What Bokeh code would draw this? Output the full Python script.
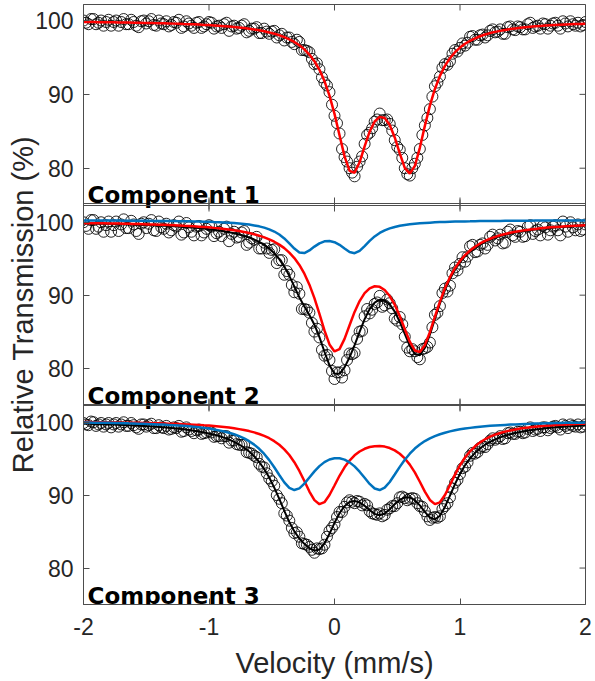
import numpy as np
from bokeh.plotting import figure
from bokeh.models import Range1d, Label, FixedTicker, Span
from bokeh.embed import file_html
from bokeh.resources import INLINE

# ---------------- data ----------------
V_START = -2.0
FIT_STEP = 0.04      # velocity step of the fitted curves (101 points)
DATA_STEP = 0.02     # velocity step of the measured points (201 points)
X_TICKS = [-2, -1, 0, 1, 2]
X_TICK_LABELS = ["-2", "-1", "0", "1", "2"]
Y_TICKS = [80, 90, 100]
PANEL_TITLES = ["Component 1", "Component 2", "Component 3"]
Y_TITLE = "Relative Transmission (%)"
X_TITLE = "Velocity (mm/s)"

# Component 1: measured points and single doublet fit (red)
P1_DATA = [
    100.0, 99.7, 99.5, 100.2, 100.2, 99.5, 99.7, 100.0, 99.3, 99.8,
    100.1, 99.3, 99.8, 100.0, 99.3, 99.8, 100.2, 99.5, 99.5, 100.1,
    99.8, 99.3, 99.1, 99.9, 100.0, 99.6, 99.9, 100.2, 99.4, 99.3,
    100.0, 99.6, 99.5, 99.9, 99.2, 99.4, 99.8, 99.7, 100.1, 99.0,
    99.2, 99.9, 99.6, 99.3, 99.0, 99.7, 99.8, 99.0, 99.2, 99.5,
    99.8, 99.7, 98.9, 99.2, 99.3, 99.0, 99.5, 99.7, 98.6, 99.2,
    99.3, 98.9, 99.0, 99.3, 99.5, 98.4, 98.6, 98.9, 98.9, 99.1,
    98.3, 98.3, 98.9, 98.5, 98.2, 98.5, 98.6, 97.7, 98.0, 98.2,
    97.3, 97.7, 97.7, 97.1, 96.8, 97.4, 97.1, 96.0, 96.0, 95.9,
    95.7, 94.8, 94.1, 94.2, 93.4, 92.3, 91.6, 91.2, 90.3, 88.6,
    87.1, 86.1, 84.7, 82.6, 81.5, 80.9, 80.0, 79.4, 78.9, 80.2,
    80.9, 81.6, 83.3, 84.5, 84.8, 85.4, 86.3, 86.6, 87.4, 86.5,
    86.5, 86.6, 86.0, 85.1, 83.8, 82.9, 82.5, 81.4, 80.0, 79.2,
    79.0, 80.0, 80.6, 81.4, 82.6, 84.5, 85.8, 86.8, 88.0, 89.7,
    91.1, 91.6, 92.4, 93.6, 94.1, 94.0, 94.5, 95.5, 96.0, 95.8,
    96.3, 96.9, 96.6, 97.0, 97.8, 97.9, 97.4, 97.4, 98.0, 98.1,
    97.7, 98.0, 98.6, 98.8, 98.4, 98.5, 98.8, 98.2, 98.2, 99.1,
    99.2, 98.8, 98.7, 99.2, 99.1, 98.8, 98.8, 99.5, 99.7, 99.0,
    99.2, 99.3, 98.9, 99.6, 99.5, 98.9, 99.3, 99.6, 99.7, 99.3,
    98.9, 99.9, 99.6, 99.2, 99.9, 99.5, 99.3, 99.7, 99.2, 99.4,
    99.8]
P1_FIT = [
    99.80, 99.79, 99.79, 99.78, 99.77, 99.76, 99.75, 99.74, 99.73, 99.72,
    99.71, 99.70, 99.68, 99.67, 99.65, 99.64, 99.62, 99.60, 99.58, 99.56,
    99.53, 99.51, 99.48, 99.45, 99.41, 99.38, 99.34, 99.29, 99.24, 99.19,
    99.13, 99.06, 98.98, 98.89, 98.79, 98.68, 98.55, 98.39, 98.22, 98.01,
    97.76, 97.46, 97.10, 96.65, 96.09, 95.39, 94.49, 93.32, 91.80, 89.84,
    87.36, 84.46, 81.60, 79.63, 79.39, 80.80, 82.95, 84.95, 86.33, 86.95,
    86.79, 85.84, 84.16, 82.01, 80.05, 79.26, 80.29, 82.76, 85.73, 88.48,
    90.73, 92.50, 93.85, 94.90, 95.71, 96.34, 96.85, 97.26, 97.59, 97.87,
    98.10, 98.30, 98.46, 98.60, 98.73, 98.84, 98.93, 99.01, 99.09, 99.15,
    99.21, 99.26, 99.31, 99.35, 99.39, 99.43, 99.46, 99.49, 99.52, 99.54,
    99.57]

# Component 2: measured points, total fit (black), major doublet (red), minor doublet (blue)
P2_DATA = [
    100.0, 99.5, 99.1, 100.3, 100.3, 99.1, 99.4, 100.0, 98.7, 99.6,
    100.1, 98.7, 99.6, 100.1, 98.8, 99.7, 100.4, 99.2, 99.2, 100.2,
    99.7, 98.8, 98.4, 99.8, 100.0, 99.2, 99.8, 100.3, 98.9, 98.8,
    100.1, 99.3, 99.1, 99.8, 98.6, 98.9, 99.6, 99.4, 100.1, 98.3,
    98.6, 99.9, 99.3, 98.7, 98.2, 99.4, 99.5, 98.2, 98.6, 99.1,
    99.6, 99.4, 98.1, 98.5, 98.7, 98.1, 99.1, 99.4, 97.4, 98.4,
    98.7, 97.9, 98.0, 98.6, 98.8, 96.9, 97.2, 97.8, 97.6, 98.0,
    96.4, 96.4, 97.2, 96.4, 95.8, 96.2, 96.3, 94.4, 94.8, 94.8,
    92.8, 93.3, 92.8, 91.4, 90.4, 91.1, 90.2, 88.1, 88.1, 88.0,
    87.6, 86.2, 85.0, 85.4, 84.2, 82.5, 81.7, 81.8, 81.1, 79.6,
    78.5, 79.4, 79.4, 78.7, 79.7, 81.1, 82.0, 81.9, 82.1, 84.0,
    85.0, 85.1, 87.1, 88.1, 87.5, 88.0, 88.8, 89.0, 89.9, 88.4,
    88.6, 89.4, 88.9, 88.2, 86.8, 86.5, 87.0, 86.0, 84.3, 82.8,
    82.3, 82.6, 82.3, 81.5, 81.2, 82.6, 82.7, 82.9, 83.5, 85.6,
    87.3, 87.6, 88.5, 90.3, 90.9, 90.5, 91.3, 93.0, 93.8, 93.4,
    94.3, 95.2, 94.6, 95.3, 96.7, 96.9, 95.9, 96.0, 96.9, 97.1,
    96.4, 96.9, 98.0, 98.3, 97.5, 97.8, 98.3, 97.1, 97.2, 98.7,
    99.0, 98.2, 98.0, 98.8, 98.7, 98.0, 98.1, 99.4, 99.6, 98.4,
    98.8, 99.0, 98.2, 99.5, 99.3, 98.3, 98.9, 99.4, 99.6, 98.9,
    98.2, 100.1, 99.4, 98.7, 100.0, 99.3, 98.9, 99.7, 98.8, 99.0,
    99.7]
P2_FIT = [
    99.84, 99.83, 99.82, 99.80, 99.79, 99.78, 99.76, 99.74, 99.72, 99.71,
    99.69, 99.66, 99.64, 99.61, 99.59, 99.56, 99.52, 99.49, 99.45, 99.41,
    99.36, 99.31, 99.26, 99.20, 99.13, 99.05, 98.97, 98.87, 98.76, 98.64,
    98.50, 98.33, 98.14, 97.91, 97.63, 97.30, 96.90, 96.39, 95.76, 94.95,
    93.92, 92.65, 91.18, 89.70, 88.43, 87.28, 85.95, 84.24, 82.24, 80.37,
    79.25, 79.21, 80.09, 81.48, 83.15, 84.97, 86.71, 88.09, 88.99, 89.38,
    89.29, 88.74, 87.75, 86.34, 84.68, 83.04, 81.92, 81.77, 82.76, 84.57,
    86.73, 88.84, 90.69, 92.23, 93.49, 94.49, 95.31, 95.97, 96.50, 96.94,
    97.31, 97.62, 97.88, 98.10, 98.29, 98.46, 98.60, 98.72, 98.84, 98.93,
    99.02, 99.10, 99.17, 99.23, 99.29, 99.34, 99.39, 99.43, 99.47, 99.51,
    99.54]
P2_RED = [
    99.89, 99.88, 99.87, 99.86, 99.85, 99.84, 99.83, 99.82, 99.80, 99.79,
    99.77, 99.75, 99.73, 99.71, 99.69, 99.67, 99.65, 99.62, 99.59, 99.56,
    99.52, 99.49, 99.45, 99.40, 99.35, 99.30, 99.23, 99.17, 99.09, 99.00,
    98.91, 98.80, 98.67, 98.53, 98.36, 98.16, 97.93, 97.66, 97.33, 96.93,
    96.45, 95.84, 95.09, 94.15, 92.95, 91.44, 89.59, 87.43, 85.16, 83.24,
    82.28, 82.60, 84.00, 85.87, 87.70, 89.19, 90.27, 90.94, 91.22, 91.14,
    90.70, 89.88, 88.69, 87.13, 85.35, 83.62, 82.41, 82.21, 83.14, 84.92,
    87.04, 89.12, 90.94, 92.46, 93.70, 94.69, 95.49, 96.13, 96.65, 97.09,
    97.44, 97.74, 97.99, 98.21, 98.39, 98.55, 98.69, 98.81, 98.92, 99.01,
    99.09, 99.17, 99.24, 99.30, 99.35, 99.40, 99.44, 99.48, 99.52, 99.56,
    99.59]
P2_BLUE = [
    100.25, 100.25, 100.24, 100.24, 100.24, 100.23, 100.23, 100.23, 100.22, 100.22,
    100.22, 100.21, 100.21, 100.20, 100.19, 100.19, 100.18, 100.17, 100.16, 100.15,
    100.14, 100.13, 100.11, 100.10, 100.08, 100.06, 100.03, 100.01, 99.97, 99.93,
    99.89, 99.83, 99.76, 99.68, 99.57, 99.44, 99.26, 99.03, 98.73, 98.32,
    97.78, 97.10, 96.39, 95.86, 95.78, 96.13, 96.66, 97.11, 97.38, 97.43,
    97.27, 96.91, 96.40, 95.91, 95.75, 96.08, 96.74, 97.45, 98.06, 98.54,
    98.89, 99.16, 99.36, 99.51, 99.63, 99.72, 99.80, 99.86, 99.91, 99.95,
    99.99, 100.02, 100.05, 100.07, 100.09, 100.11, 100.12, 100.13, 100.15, 100.16,
    100.17, 100.18, 100.18, 100.19, 100.20, 100.20, 100.21, 100.21, 100.22, 100.22,
    100.23, 100.23, 100.23, 100.24, 100.24, 100.24, 100.24, 100.25, 100.25, 100.25,
    100.25]

# Component 3: measured points, total fit (black), doublet A (red), doublet B (blue)
P3_DATA = [
    99.9, 99.7, 99.6, 100.1, 100.0, 99.5, 99.7, 99.9, 99.4, 99.7,
    99.9, 99.3, 99.7, 99.9, 99.4, 99.7, 100.0, 99.5, 99.5, 99.9,
    99.6, 99.3, 99.1, 99.7, 99.7, 99.4, 99.6, 99.8, 99.2, 99.2,
    99.6, 99.3, 99.2, 99.5, 99.0, 99.1, 99.3, 99.2, 99.5, 98.7,
    98.8, 99.3, 99.0, 98.8, 98.5, 98.9, 99.0, 98.4, 98.5, 98.6,
    98.8, 98.6, 98.0, 98.1, 98.1, 97.8, 98.1, 98.1, 97.2, 97.5,
    97.5, 97.0, 96.9, 96.9, 96.9, 95.9, 95.8, 95.7, 95.4, 95.2,
    94.3, 93.9, 93.8, 93.0, 92.3, 91.9, 91.3, 90.0, 89.5, 88.9,
    87.5, 87.2, 86.5, 85.5, 84.8, 84.9, 84.3, 83.4, 83.3, 83.2,
    82.9, 82.5, 82.1, 82.7, 82.6, 82.7, 83.2, 84.3, 85.1, 85.5,
    86.0, 87.0, 87.7, 87.7, 88.4, 89.0, 89.3, 89.1, 88.9, 89.2,
    89.1, 88.6, 88.8, 88.6, 87.8, 87.5, 87.4, 87.3, 87.5, 87.1,
    87.3, 88.0, 88.2, 88.5, 88.5, 88.9, 89.7, 89.8, 89.6, 89.3,
    89.5, 89.6, 89.5, 88.9, 88.5, 88.4, 87.8, 87.1, 86.6, 86.9,
    87.0, 86.9, 87.1, 88.1, 88.5, 88.9, 89.7, 90.9, 91.7, 92.1,
    92.9, 93.7, 93.9, 94.5, 95.4, 95.8, 95.7, 95.9, 96.5, 96.7,
    96.6, 97.0, 97.5, 97.8, 97.6, 97.8, 98.1, 97.7, 97.8, 98.5,
    98.6, 98.4, 98.4, 98.7, 98.7, 98.5, 98.6, 99.1, 99.3, 98.8,
    99.0, 99.1, 98.8, 99.3, 99.3, 98.9, 99.2, 99.4, 99.5, 99.3,
    99.0, 99.7, 99.5, 99.2, 99.7, 99.5, 99.4, 99.7, 99.3, 99.4,
    99.7]
P3_FIT = [
    99.80, 99.78, 99.76, 99.74, 99.72, 99.70, 99.68, 99.65, 99.63, 99.60,
    99.57, 99.53, 99.49, 99.45, 99.41, 99.36, 99.31, 99.25, 99.19, 99.12,
    99.04, 98.95, 98.85, 98.74, 98.61, 98.47, 98.30, 98.11, 97.89, 97.63,
    97.32, 96.95, 96.51, 95.98, 95.34, 94.55, 93.58, 92.42, 91.04, 89.49,
    87.85, 86.31, 85.03, 84.05, 83.32, 82.72, 82.38, 82.54, 83.37, 84.70,
    86.20, 87.52, 88.49, 89.05, 89.21, 89.01, 88.54, 87.94, 87.43, 87.25,
    87.49, 88.07, 88.77, 89.36, 89.70, 89.69, 89.31, 88.60, 87.71, 86.93,
    86.67, 87.18, 88.38, 89.94, 91.52, 92.92, 94.10, 95.05, 95.81, 96.43,
    96.92, 97.32, 97.66, 97.93, 98.17, 98.36, 98.53, 98.67, 98.80, 98.91,
    99.01, 99.09, 99.17, 99.24, 99.30, 99.36, 99.41, 99.45, 99.50, 99.53,
    99.57]
P3_RED = [
    100.02, 100.02, 100.01, 100.00, 99.99, 99.98, 99.97, 99.96, 99.95, 99.94,
    99.93, 99.92, 99.90, 99.89, 99.87, 99.85, 99.83, 99.81, 99.79, 99.76,
    99.73, 99.70, 99.67, 99.63, 99.58, 99.54, 99.48, 99.42, 99.35, 99.27,
    99.17, 99.06, 98.94, 98.79, 98.61, 98.39, 98.13, 97.81, 97.41, 96.92,
    96.29, 95.51, 94.52, 93.32, 91.94, 90.50, 89.32, 88.76, 89.04, 90.02,
    91.33, 92.66, 93.82, 94.75, 95.46, 95.99, 96.36, 96.60, 96.72, 96.74,
    96.66, 96.46, 96.14, 95.68, 95.04, 94.19, 93.12, 91.84, 90.49, 89.34,
    88.77, 89.02, 90.01, 91.39, 92.82, 94.10, 95.16, 96.02, 96.70, 97.24,
    97.67, 98.02, 98.30, 98.53, 98.72, 98.88, 99.02, 99.13, 99.23, 99.32,
    99.39, 99.46, 99.52, 99.57, 99.61, 99.65, 99.69, 99.72, 99.75, 99.78,
    99.80]
P3_BLUE = [
    99.97, 99.96, 99.95, 99.94, 99.93, 99.92, 99.90, 99.89, 99.87, 99.85,
    99.84, 99.81, 99.79, 99.77, 99.74, 99.71, 99.68, 99.64, 99.60, 99.56,
    99.51, 99.45, 99.38, 99.31, 99.23, 99.13, 99.02, 98.89, 98.74, 98.56,
    98.35, 98.09, 97.78, 97.40, 96.93, 96.36, 95.65, 94.81, 93.83, 92.77,
    91.76, 91.00, 90.70, 90.93, 91.58, 92.42, 93.26, 93.98, 94.53, 94.89,
    95.06, 95.06, 94.87, 94.50, 93.95, 93.22, 92.38, 91.54, 90.91, 90.70,
    91.03, 91.81, 92.83, 93.88, 94.86, 95.69, 96.39, 96.95, 97.42, 97.79,
    98.10, 98.36, 98.57, 98.75, 98.90, 99.03, 99.14, 99.23, 99.31, 99.39,
    99.45, 99.51, 99.56, 99.60, 99.64, 99.68, 99.71, 99.74, 99.77, 99.79,
    99.82, 99.84, 99.86, 99.87, 99.89, 99.90, 99.92, 99.93, 99.94, 99.95,
    99.97]

for _a in (P1_FIT, P2_FIT, P2_RED, P2_BLUE, P3_FIT, P3_RED, P3_BLUE):
    assert len(_a) == 101, len(_a)
for _a in (P1_DATA, P2_DATA, P3_DATA):
    assert len(_a) == 201, len(_a)

fit_v = V_START + FIT_STEP * np.arange(len(P1_FIT))
data_v = V_START + DATA_STEP * np.arange(len(P1_DATA))

# ---------------- layout of the three stacked panels ----------------
FRAME_H = 600                                   # one frame holding the three panels
PANEL_PX = [(401, 600), (200, 399), (0, 199)]   # pixel band of each panel (from frame bottom)
PANEL_WIN = [(75.22, 102.17), (75.0, 102.3), (75.0, 102.3)]  # value window of each panel

AXC = "#262626"
BOXC = "#4d4d4d"
RED = "#ff0000"
BLUE = "#0072bd"
SANS = "Liberation Sans"
TICK_LEN = 12

p = figure(frame_width=502, frame_height=FRAME_H,
           x_range=Range1d(-2, 2), y_range=Range1d(0, FRAME_H),
           output_backend="svg", toolbar_location=None,
           min_border_left=83, min_border_right=8,
           min_border_top=4, min_border_bottom=60)
p.grid.visible = False
p.outline_line_color = BOXC
p.outline_line_width = 1
p.background_fill_color = "white"
p.border_fill_color = "white"

names = []
tick_pos, tick_lab = [], []
extra = {}
for k, ((lo, hi), (plo, phi)) in enumerate(zip(PANEL_WIN, PANEL_PX)):
    scale = (phi - plo) / (hi - lo)
    start = lo - plo / scale
    name = "panel%d" % (k + 1)
    extra[name] = Range1d(start, start + FRAME_H / scale)
    names.append(name)
    for t in Y_TICKS:
        tick_pos.append(round(plo + (t - lo) * scale, 3))
        tick_lab.append(str(t))
p.extra_y_ranges = extra

# left axis: tick labels of all panels + shared title
ya = p.left[0]
ya.ticker = FixedTicker(ticks=tick_pos)
ya.major_label_overrides = dict(zip(tick_pos, tick_lab))
ya.major_tick_in = 6
ya.major_tick_out = 0
ya.minor_tick_in = 0
ya.minor_tick_out = 0
ya.major_tick_line_color = BOXC
ya.axis_line_color = BOXC
ya.major_label_text_font = SANS
ya.major_label_text_font_size = "23px"
ya.major_label_text_color = AXC
ya.major_label_standoff = 10
ya.axis_label = Y_TITLE
ya.axis_label_text_font = SANS
ya.axis_label_text_font_size = "29px"
ya.axis_label_text_font_style = "normal"
ya.axis_label_text_color = AXC
ya.axis_label_standoff = -7

# bottom axis
xa = p.below[0]
xa.ticker = FixedTicker(ticks=X_TICKS)
xa.major_label_overrides = dict(zip(X_TICKS, X_TICK_LABELS))
xa.major_tick_in = 6
xa.major_tick_out = 0
xa.minor_tick_in = 0
xa.minor_tick_out = 0
xa.major_tick_line_color = BOXC
xa.axis_line_color = BOXC
xa.major_label_text_font = SANS
xa.major_label_text_font_size = "23px"
xa.major_label_text_color = AXC
xa.major_label_standoff = 13
xa.axis_label = X_TITLE
xa.axis_label_text_font = SANS
xa.axis_label_text_font_size = "29px"
xa.axis_label_text_font_style = "normal"
xa.axis_label_text_color = AXC
xa.axis_label_standoff = 9

series = [
    (P1_DATA, [(P1_FIT, RED, 2.5)]),
    (P2_DATA, [(P2_FIT, "black", 2.0), (P2_RED, RED, 2.5), (P2_BLUE, BLUE, 2.5)]),
    (P3_DATA, [(P3_FIT, "black", 2.0), (P3_RED, RED, 2.5), (P3_BLUE, BLUE, 2.5)]),
]

for k, (name, (lo, hi), (pts, curves)) in enumerate(zip(names, PANEL_WIN, series)):
    # panel box edges
    if k > 0:
        p.add_layout(Span(location=hi, dimension="width", y_range_name=name,
                          line_color=BOXC, line_width=1))
    if k < 2:
        p.add_layout(Span(location=lo, dimension="width", y_range_name=name,
                          line_color=BOXC, line_width=1))
    # inner ticks on top / bottom / right edges of this panel
    p.scatter(X_TICKS, [hi] * len(X_TICKS), marker="dash", angle=np.pi / 2,
              size=TICK_LEN, line_color=BOXC, line_width=1, y_range_name=name)
    if k < 2:
        p.scatter(X_TICKS, [lo] * len(X_TICKS), marker="dash", angle=np.pi / 2,
                  size=TICK_LEN, line_color=BOXC, line_width=1, y_range_name=name)
    p.scatter([2] * len(Y_TICKS), Y_TICKS, marker="dash", size=TICK_LEN,
              line_color=BOXC, line_width=1, y_range_name=name)
    # measured points
    p.scatter(data_v, pts, marker="circle", size=11, fill_color=None,
              line_color="black", line_width=1, line_alpha=0.85, y_range_name=name)
    # fitted curves
    for ys, col, lw in curves:
        p.line(fit_v, ys, line_color=col, line_width=lw, y_range_name=name)
    # panel title
    p.add_layout(Label(x=-2, y=lo + 1.1, x_offset=4, y_range_name=name,
                       text=PANEL_TITLES[k], text_font="DejaVu Sans",
                       text_font_style="bold", text_font_size="23px",
                       text_color="black", text_align="left",
                       text_baseline="alphabetic"))

open("out.html", "w").write(file_html(p, INLINE))
